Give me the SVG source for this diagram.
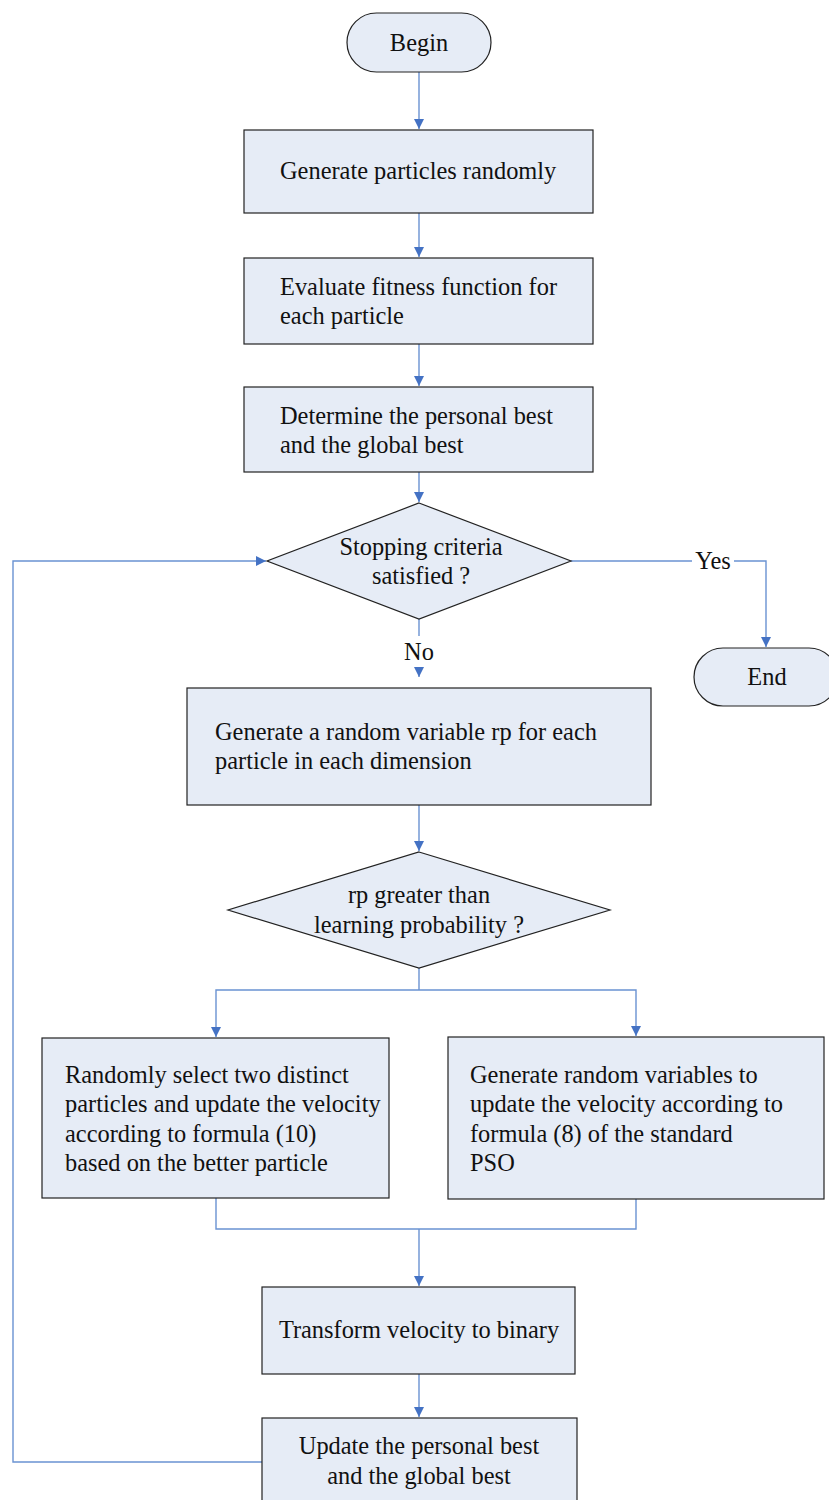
<svg xmlns="http://www.w3.org/2000/svg" width="829" height="1500" viewBox="0 0 829 1500">
  <style>
    .node { fill: #e6ecf6; stroke: #222; stroke-width: 1.2; }
    .conn { fill: none; stroke: #6a92d2; stroke-width: 1.4; }
    text { font-family: "Liberation Serif", "Times New Roman", serif; font-size: 24.4px; fill: #111; }
    .c { text-anchor: middle; }
  </style>
  <defs>
    <marker id="arrow" viewBox="0 0 10 10" refX="10" refY="5" markerWidth="10" markerHeight="10" markerUnits="userSpaceOnUse" orient="auto">
      <path d="M0,0 L10,5 L0,10 Z" fill="#4472c4"/>
    </marker>
  </defs>
  <rect width="829" height="1500" fill="#fff"/>

  <g id="connectors">
    <line class="conn" x1="419" y1="72" x2="419" y2="129" marker-end="url(#arrow)"/>
    <line class="conn" x1="419" y1="213" x2="419" y2="257" marker-end="url(#arrow)"/>
    <line class="conn" x1="419" y1="344" x2="419" y2="386" marker-end="url(#arrow)"/>
    <line class="conn" x1="419" y1="472" x2="419" y2="502" marker-end="url(#arrow)"/>
    <polyline class="conn" points="571,561 692,561"/>
    <polyline class="conn" points="734,561 766,561 766,647" marker-end="url(#arrow)"/>
    <line class="conn" x1="419" y1="619" x2="419" y2="636"/>
    <line class="conn" x1="419" y1="667" x2="419" y2="677" stroke="none" marker-end="url(#arrow)"/>
    <line class="conn" x1="419" y1="805" x2="419" y2="851" marker-end="url(#arrow)"/>
    <polyline class="conn" points="419,968 419,990"/>
    <polyline class="conn" points="419,990 216,990 216,1037" marker-end="url(#arrow)"/>
    <polyline class="conn" points="419,990 636,990 636,1036" marker-end="url(#arrow)"/>
    <polyline class="conn" points="216,1198 216,1229 636,1229 636,1199"/>
    <line class="conn" x1="419" y1="1229" x2="419" y2="1286" marker-end="url(#arrow)"/>
    <line class="conn" x1="419" y1="1374" x2="419" y2="1417" marker-end="url(#arrow)"/>
    <polyline class="conn" points="262,1462 13,1462 13,561 266,561" marker-end="url(#arrow)"/>
  </g>

  <g id="begin">
    <rect class="node" x="347" y="13" width="144" height="59" rx="29.5"/>
    <text class="c" x="419" y="51">Begin</text>
  </g>

  <g id="generate-particles">
    <rect class="node" x="244" y="130" width="349" height="83"/>
    <text x="280" y="179">Generate particles randomly</text>
  </g>

  <g id="evaluate-fitness">
    <rect class="node" x="244" y="258" width="349" height="86"/>
    <text x="280" y="295">Evaluate fitness function for</text>
    <text x="280" y="324">each particle</text>
  </g>

  <g id="determine-best">
    <rect class="node" x="244" y="387" width="349" height="85"/>
    <text x="280" y="424">Determine the personal best</text>
    <text x="280" y="453">and the global best</text>
  </g>

  <g id="stop-check">
    <polygon class="node" points="419,503 571,561 419,619 267,561"/>
    <text class="c" x="421" y="555">Stopping criteria</text>
    <text class="c" x="421" y="584">satisfied ?</text>
  </g>

  <g id="label-yes">
    <text class="c" x="713" y="569">Yes</text>
  </g>

  <g id="label-no">
    <text class="c" x="419" y="660">No</text>
  </g>

  <g id="end">
    <rect class="node" x="694" y="648" width="144" height="58" rx="29"/>
    <text class="c" x="767" y="685">End</text>
  </g>

  <g id="random-rp">
    <rect class="node" x="187" y="688" width="464" height="117"/>
    <text x="215" y="740">Generate a random variable rp for each</text>
    <text x="215" y="769">particle in each dimension</text>
  </g>

  <g id="rp-check">
    <polygon class="node" points="419,852 610,910 419,968 228,910"/>
    <text class="c" x="419" y="903">rp greater than</text>
    <text class="c" x="419" y="933">learning probability ?</text>
  </g>

  <g id="select-two">
    <rect class="node" x="42" y="1038" width="347" height="160"/>
    <text x="65" y="1083">Randomly select two distinct</text>
    <text x="65" y="1112">particles and update the velocity</text>
    <text x="65" y="1142">according to formula (10)</text>
    <text x="65" y="1171">based on the better particle</text>
  </g>

  <g id="standard-pso">
    <rect class="node" x="448" y="1037" width="376" height="162"/>
    <text x="470" y="1083">Generate random variables to</text>
    <text x="470" y="1112">update the velocity according to</text>
    <text x="470" y="1142">formula (8) of the standard</text>
    <text x="470" y="1171">PSO</text>
  </g>

  <g id="to-binary">
    <rect class="node" x="262" y="1287" width="313" height="87"/>
    <text class="c" x="419" y="1338">Transform velocity to binary</text>
  </g>

  <g id="update-best">
    <rect class="node" x="262" y="1418" width="315" height="90"/>
    <text class="c" x="419" y="1454">Update the personal best</text>
    <text class="c" x="419" y="1484">and the global best</text>
  </g>
</svg>
